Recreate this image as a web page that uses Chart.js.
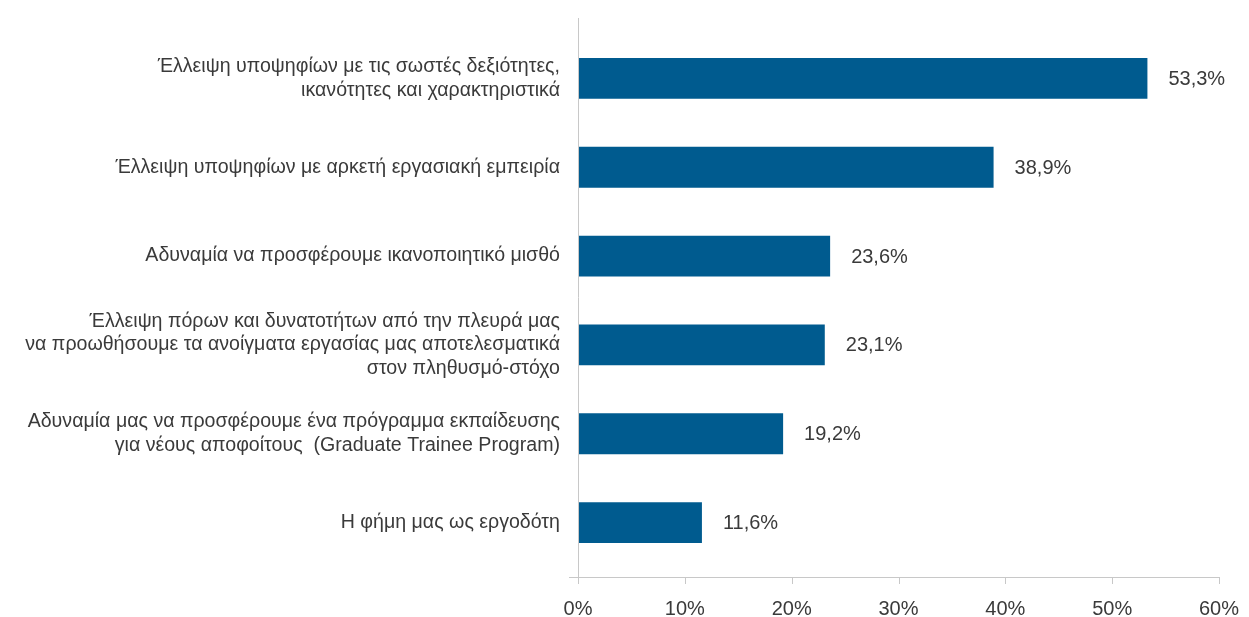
<!DOCTYPE html>
<html>
<head>
<meta charset="utf-8">
<script src="https://cdn.jsdelivr.net/npm/chart.js@4/dist/chart.umd.min.js"></script>
<style>
  html, body { margin: 0; padding: 0; background: #fff; }
  #wrap { width: 1249px; height: 617px; }
</style>
</head>
<body>
<div id="wrap"><canvas id="barChart" width="1249" height="617"></canvas></div>
<script>
const categories = [
    ['Έλλειψη υποψηφίων με τις σωστές δεξιότητες,', 'ικανότητες και χαρακτηριστικά'],
    'Έλλειψη υποψηφίων με αρκετή εργασιακή εμπειρία',
    'Αδυναμία να προσφέρουμε ικανοποιητικό μισθό',
    ['Έλλειψη πόρων και δυνατοτήτων από την πλευρά μας', 'να προωθήσουμε τα ανοίγματα εργασίας μας αποτελεσματικά', 'στον πληθυσμό-στόχο'],
    ['Αδυναμία μας να προσφέρουμε ένα πρόγραμμα εκπαίδευσης', 'για νέους αποφοίτους  (Graduate Trainee Program)'],
    'Η φήμη μας ως εργοδότη'
];
const values = [53.3, 38.9, 23.6, 23.1, 19.2, 11.6];
const valueLabels = ['53,3%', '38,9%', '23,6%', '23,1%', '19,2%', '11,6%'];
const xTicks = [0, 10, 20, 30, 40, 50, 60];

const fontFamily = "'Liberation Sans', Arial, sans-serif";
const textColor = '#3a3a3a';
const axisColor = '#c8c8c8';

// axis lines and tick marks like the original (y axis runs past the bars)
const axisLines = {
    id: 'axisLines',
    afterDraw(chart) {
        const ctx = chart.ctx;
        const x = chart.scales.x;
        const area = chart.chartArea;
        const base = area.bottom + 10;
        ctx.save();
        ctx.strokeStyle = axisColor;
        ctx.lineWidth = 1;
        ctx.beginPath();
        ctx.moveTo(area.left + 0.5, 18);
        ctx.lineTo(area.left + 0.5, base);
        ctx.moveTo(area.left - 9, base + 0.5);
        ctx.lineTo(area.right, base + 0.5);
        xTicks.forEach(t => {
            const px = Math.round(x.getPixelForValue(t)) + 0.5;
            ctx.moveTo(px, base);
            ctx.lineTo(px, base + 7);
        });
        ctx.stroke();
        ctx.restore();
    }
};

const valueText = {
    id: 'valueText',
    afterDatasetsDraw(chart) {
        const ctx = chart.ctx;
        const meta = chart.getDatasetMeta(0);
        ctx.save();
        ctx.font = '20px ' + fontFamily;
        ctx.fillStyle = textColor;
        ctx.textAlign = 'left';
        ctx.textBaseline = 'middle';
        meta.data.forEach((bar, i) => {
            ctx.fillText(valueLabels[i], bar.x + 21, bar.y + 1);
        });
        ctx.restore();
    }
};

new Chart(document.getElementById('barChart').getContext('2d'), {
    type: 'bar',
    data: {
        labels: categories,
        datasets: [{
            data: values,
            backgroundColor: '#005b8f',
            borderWidth: 0,
            barPercentage: 0.46,
            categoryPercentage: 1
        }]
    },
    options: {
        indexAxis: 'y',
        responsive: false,
        animation: false,
        layout: { padding: { top: 34, right: 30, left: 0, bottom: 0 } },
        plugins: {
            legend: { display: false },
            tooltip: { enabled: false }
        },
        scales: {
            x: {
                min: 0,
                max: 60,
                afterBuildTicks: s => { s.ticks = xTicks.map(v => ({ value: v })); },
                afterFit: s => { s.height = 50; s.paddingLeft = 0; s.paddingRight = 0; },
                grid: { display: false },
                border: { display: false },
                ticks: {
                    padding: 22,
                    color: textColor,
                    font: { family: fontFamily, size: 20 },
                    callback: v => v + '%'
                }
            },
            y: {
                afterFit: s => { s.width = 578; },
                grid: { display: false },
                border: { display: false },
                ticks: {
                    padding: 10,
                    color: textColor,
                    font: { family: fontFamily, size: 19.6, lineHeight: 1.2 }
                }
            }
        }
    },
    plugins: [axisLines, valueText]
});
</script>
</body>
</html>
